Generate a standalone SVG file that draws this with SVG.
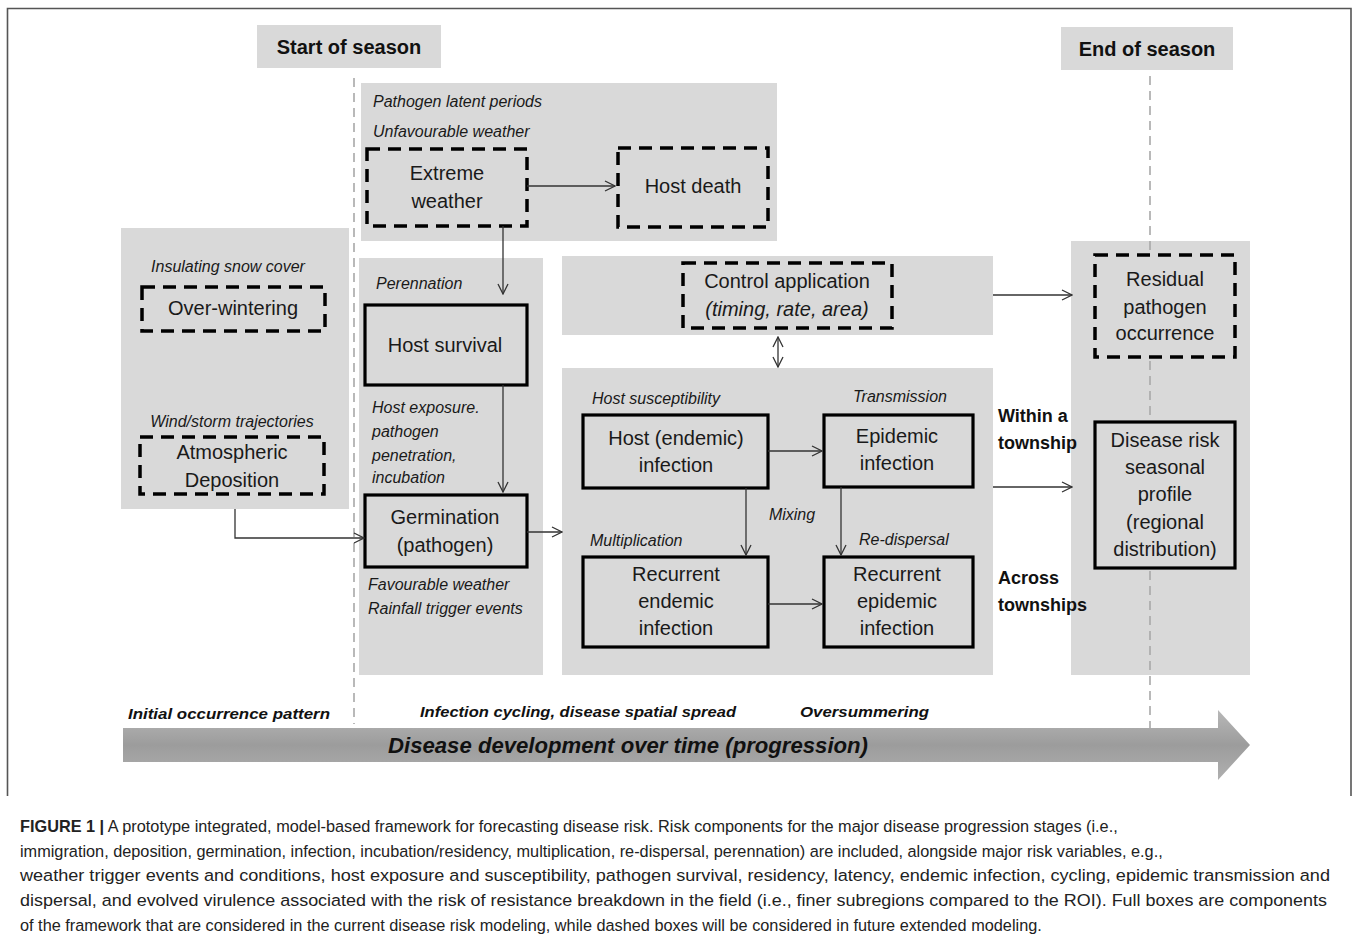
<svg xmlns="http://www.w3.org/2000/svg" width="1358" height="943" viewBox="0 0 1358 943">
<defs>
<style>
.panel{fill:#d9d9d9}
.solid{fill:#d9d9d9;stroke:#000;stroke-width:3.2}
.dash{fill:#d9d9d9;stroke:#000;stroke-width:3.5;stroke-dasharray:13 8}
.vline{stroke:#a8a8a8;stroke-width:1.6;stroke-dasharray:9 6;fill:none}
.node{font-family:"Liberation Sans",Arial,sans-serif;font-size:20px;fill:#1a1a1a;text-anchor:middle}
.lab{font-family:"Liberation Sans",Arial,sans-serif;font-size:16px;font-style:italic;fill:#1a1a1a}
.head{font-family:"Liberation Sans",Arial,sans-serif;font-size:20px;font-weight:bold;fill:#111;text-anchor:middle}
.side{font-family:"Liberation Sans",Arial,sans-serif;font-size:18px;font-weight:bold;fill:#111}
.stage{font-family:"Liberation Sans",Arial,sans-serif;font-size:15px;font-weight:bold;font-style:italic;fill:#111}
.cap{font-family:"Liberation Sans",Arial,sans-serif;font-size:16.3px;fill:#222}
.conn{stroke:#333;stroke-width:1.3;fill:none}
</style>
<marker id="ah" markerWidth="12" markerHeight="12" refX="11" refY="6" orient="auto-start-reverse" markerUnits="userSpaceOnUse">
<path d="M1,1 L11,6 L1,11" fill="none" stroke="#333" stroke-width="1.3"/>
</marker>
<linearGradient id="ag" x1="0" y1="0" x2="0" y2="1">
<stop offset="0" stop-color="#b8b8b8"/>
<stop offset="0.5" stop-color="#9c9c9c"/>
<stop offset="1" stop-color="#b0b0b0"/>
</linearGradient>
</defs>
<rect width="1358" height="943" fill="#fff"/>
<path d="M7.5,796 V8.5 H1351 V796" fill="none" stroke="#555" stroke-width="1.6"/>

<g id="headers">
<rect x="257" y="25" width="184" height="43" class="panel"/>
<text x="349" y="54" class="head">Start of season</text>
<rect x="1061" y="27" width="172" height="43" class="panel"/>
<text x="1147" y="56" class="head">End of season</text>
</g>

<g id="panels">
<rect x="361" y="83" width="416" height="158" class="panel"/>
<rect x="121" y="228" width="228" height="281" class="panel"/>
<rect x="359" y="258" width="184" height="417" class="panel"/>
<rect x="562" y="256" width="431" height="79" class="panel"/>
<rect x="562" y="368" width="431" height="307" class="panel"/>
<rect x="1071" y="241" width="179" height="434" class="panel"/>
</g>

<g id="season-lines">
<line x1="354" y1="78" x2="354" y2="724" class="vline"/>
<line x1="1150" y1="76" x2="1150" y2="732" class="vline"/>
</g>

<g id="labels">
<text x="373" y="107" class="lab">Pathogen latent periods</text>
<text x="373" y="137" class="lab">Unfavourable weather</text>
<text x="228" y="272" class="lab" text-anchor="middle">Insulating snow cover</text>
<text x="232" y="427" class="lab" text-anchor="middle">Wind/storm trajectories</text>
<text x="376" y="289" class="lab">Perennation</text>
<text x="372" y="413" class="lab">Host exposure.</text>
<text x="372" y="437" class="lab">pathogen</text>
<text x="372" y="461" class="lab">penetration,</text>
<text x="372" y="483" class="lab">incubation</text>
<text x="368" y="590" class="lab">Favourable weather</text>
<text x="368" y="614" class="lab">Rainfall trigger events</text>
<text x="592" y="404" class="lab">Host susceptibility</text>
<text x="900" y="402" class="lab" text-anchor="middle">Transmission</text>
<text x="792" y="520" class="lab" text-anchor="middle">Mixing</text>
<text x="590" y="546" class="lab">Multiplication</text>
<text x="859" y="545" class="lab">Re-dispersal</text>
<text x="998" y="422" class="side">Within a</text>
<text x="998" y="449" class="side">township</text>
<text x="998" y="584" class="side">Across</text>
<text x="998" y="611" class="side">townships</text>
</g>

<g id="extreme-weather">
<rect x="367" y="149" width="160" height="77" class="dash"/>
<text x="447" y="180" class="node">Extreme</text>
<text x="447" y="208" class="node">weather</text>
</g>
<g id="host-death">
<rect x="618" y="148" width="150" height="79" class="dash"/>
<text x="693" y="193" class="node">Host death</text>
</g>
<g id="over-wintering">
<rect x="142" y="287" width="183" height="44" class="dash"/>
<text x="233" y="315" class="node">Over-wintering</text>
</g>
<g id="atmospheric-deposition">
<rect x="140" y="437" width="184" height="57" class="dash"/>
<text x="232" y="459" class="node">Atmospheric</text>
<text x="232" y="487" class="node">Deposition</text>
</g>
<g id="host-survival">
<rect x="365" y="305" width="162" height="80" class="solid"/>
<text x="445" y="352" class="node">Host survival</text>
</g>
<g id="germination">
<rect x="365" y="495" width="162" height="72" class="solid"/>
<text x="445" y="524" class="node">Germination</text>
<text x="445" y="552" class="node">(pathogen)</text>
</g>
<g id="control-application">
<rect x="683" y="263" width="209" height="65" class="dash"/>
<text x="787" y="288" class="node">Control application</text>
<text x="787" y="316" class="node" font-style="italic">(timing, rate, area)</text>
</g>
<g id="host-endemic-infection">
<rect x="583" y="415" width="185" height="73" class="solid"/>
<text x="676" y="445" class="node">Host (endemic)</text>
<text x="676" y="472" class="node">infection</text>
</g>
<g id="epidemic-infection">
<rect x="824" y="415" width="149" height="72" class="solid"/>
<text x="897" y="443" class="node">Epidemic</text>
<text x="897" y="470" class="node">infection</text>
</g>
<g id="recurrent-endemic-infection">
<rect x="583" y="557" width="185" height="90" class="solid"/>
<text x="676" y="581" class="node">Recurrent</text>
<text x="676" y="608" class="node">endemic</text>
<text x="676" y="635" class="node">infection</text>
</g>
<g id="recurrent-epidemic-infection">
<rect x="824" y="557" width="149" height="90" class="solid"/>
<text x="897" y="581" class="node">Recurrent</text>
<text x="897" y="608" class="node">epidemic</text>
<text x="897" y="635" class="node">infection</text>
</g>
<g id="residual-pathogen-occurrence">
<rect x="1095" y="255" width="140" height="102" class="dash"/>
<text x="1165" y="286" class="node">Residual</text>
<text x="1165" y="314" class="node">pathogen</text>
<text x="1165" y="340" class="node">occurrence</text>
</g>
<g id="disease-risk-profile">
<rect x="1095" y="422" width="140" height="146" class="solid"/>
<text x="1165" y="447" class="node">Disease risk</text>
<text x="1165" y="474" class="node">seasonal</text>
<text x="1165" y="501" class="node">profile</text>
<text x="1165" y="529" class="node">(regional</text>
<text x="1165" y="556" class="node">distribution)</text>
</g>

<g id="connectors">
<line x1="527" y1="186" x2="615" y2="186" class="conn" marker-end="url(#ah)"/>
<line x1="503" y1="226" x2="503" y2="294" class="conn" marker-end="url(#ah)"/>
<line x1="503" y1="385" x2="503" y2="492" class="conn" marker-end="url(#ah)"/>
<polyline points="235,509 235,538 364,538" class="conn" marker-end="url(#ah)"/>
<line x1="527" y1="532" x2="562" y2="532" class="conn" marker-end="url(#ah)"/>
<line x1="993" y1="295" x2="1072" y2="295" class="conn" marker-end="url(#ah)"/>
<line x1="778" y1="337" x2="778" y2="367" class="conn" marker-start="url(#ah)" marker-end="url(#ah)"/>
<line x1="768" y1="451" x2="822" y2="451" class="conn" marker-end="url(#ah)"/>
<line x1="746" y1="488" x2="746" y2="555" class="conn" marker-end="url(#ah)"/>
<line x1="841" y1="487" x2="841" y2="555" class="conn" marker-end="url(#ah)"/>
<line x1="768" y1="604" x2="822" y2="604" class="conn" marker-end="url(#ah)"/>
<line x1="993" y1="487" x2="1072" y2="487" class="conn" marker-end="url(#ah)"/>
</g>

<g id="timeline">
<text x="128" y="719" class="stage" textLength="202" lengthAdjust="spacingAndGlyphs">Initial occurrence pattern</text>
<text x="420" y="717" class="stage" textLength="316" lengthAdjust="spacingAndGlyphs">Infection cycling, disease spatial spread</text>
<text x="800" y="717" class="stage" textLength="129" lengthAdjust="spacingAndGlyphs">Oversummering</text>
<path d="M123,728 H1218 V710 L1250,745 L1218,780 V762 H123 Z" fill="url(#ag)"/>
<text x="388" y="753" font-family="'Liberation Sans',Arial,sans-serif" font-size="22" font-weight="bold" font-style="italic" fill="#111" textLength="480" lengthAdjust="spacingAndGlyphs">Disease development over time (progression)</text>
</g>

<g id="caption">
<text x="20" y="832" class="cap"><tspan font-weight="bold">FIGURE 1 |</tspan> A prototype integrated, model-based framework for forecasting disease risk. Risk components for the major disease progression stages (i.e.,</text>
<text x="20" y="857" class="cap">immigration, deposition, germination, infection, incubation/residency, multiplication, re-dispersal, perennation) are included, alongside major risk variables, e.g.,</text>
<text x="20" y="881" class="cap" textLength="1310" lengthAdjust="spacingAndGlyphs">weather trigger events and conditions, host exposure and susceptibility, pathogen survival, residency, latency, endemic infection, cycling, epidemic transmission and</text>
<text x="20" y="906" class="cap" textLength="1307" lengthAdjust="spacingAndGlyphs">dispersal, and evolved virulence associated with the risk of resistance breakdown in the field (i.e., finer subregions compared to the ROI). Full boxes are components</text>
<text x="20" y="931" class="cap">of the framework that are considered in the current disease risk modeling, while dashed boxes will be considered in future extended modeling.</text>
</g>
</svg>
